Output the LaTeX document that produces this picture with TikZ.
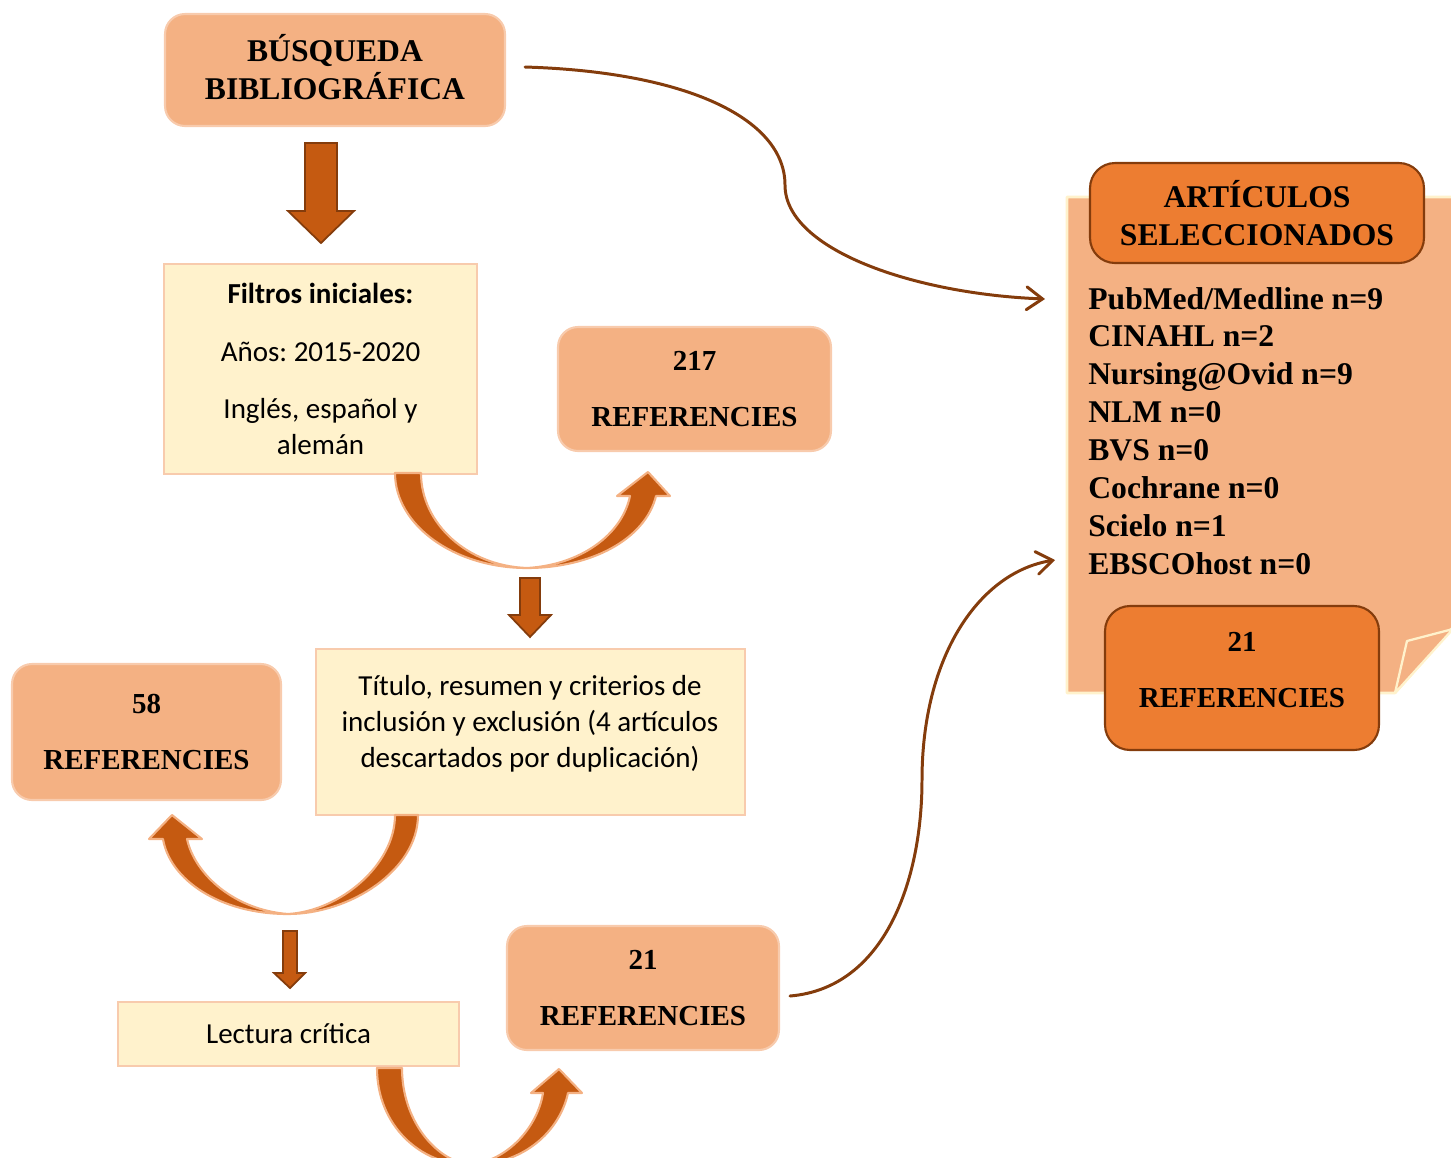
\documentclass[tikz,border=0pt]{standalone}
\usepackage{fontspec}
\setmainfont{Liberation Serif}
\newfontfamily\calfont{Carlito}
\usetikzlibrary{arrows.meta}
\definecolor{peach}{HTML}{F4B183}
\definecolor{peachline}{HTML}{F8CBAD}
\definecolor{cream}{HTML}{FFF2CC}
\definecolor{orng}{HTML}{ED7D31}
\definecolor{rust}{HTML}{C55A11}
\definecolor{darkbrown}{HTML}{843C0C}
\frenchspacing
\begin{document}
\begin{tikzpicture}[x=0.02cm,y=-0.02cm,
  pbox/.style={draw=peachline, line width=1.2pt, fill=peach, rounded corners=0.4cm,
    align=center, inner sep=0pt, font=\bfseries\fontsize{16.5}{19.5}\selectfont},
  hbox/.style={pbox, font=\bfseries\fontsize{18}{21.5}\selectfont},
  obox/.style={draw=darkbrown, line width=1.2pt, fill=orng, rounded corners=0.5cm,
    align=center, inner sep=0pt, font=\bfseries\fontsize{16.5}{19.5}\selectfont},
  cfont/.style={font=\calfont\fontsize{16.5}{20.4}\selectfont},
  cbox/.style={draw=peachline, line width=1.2pt, fill=cream, align=center, inner sep=0pt, cfont},
  blockarrow/.style={fill=rust, draw=darkbrown, line width=1pt, line join=miter},
  uarrow/.style={fill=rust, draw=peach, line width=1.2pt, line join=round},
  thin/.style={draw=darkbrown, line width=1.7pt, line cap=round,
    -{Straight Barb[length=9pt,width=13pt,line cap=round]}},
  listtxt/.style={anchor=base west, inner sep=0pt, font=\bfseries\fontsize{18}{21.5}\selectfont}
]
\path[use as bounding box] (0,0) rectangle (1451,1157);
\clip (0,0) rectangle (1451,1157);

% note with folded corner
\path[fill=peach, draw=cream, line width=1.5pt, line join=round]
  (1067,197) -- (1455,197) -- (1455,625) -- (1395,693) -- (1067,693) -- cycle;
\path[fill=peach, draw=cream, line width=1.3pt, line join=round]
  (1395,693) -- (1407,641) -- (1453,629) -- cycle;

% boxes
\node[hbox, minimum width=6.8cm, minimum height=2.24cm] (busq) at (335,70) {};
\node[align=center, inner sep=0pt, font=\bfseries\fontsize{18}{21.5}\selectfont]
  (busqtxt) at (335,67) {BÚSQUEDA\\BIBLIOGRÁFICA};
\node[cbox, minimum width=6.26cm, minimum height=4.2cm] (filt) at (320.5,369)
  {\textbf{Filtros iniciales:}\\[12.6pt]Años: 2015-2020\\[12.3pt]Inglés, español y\\alemán};
\node[pbox, minimum width=5.46cm, minimum height=2.48cm] (r217) at (694.5,389) {217\\[12pt]REFERENCIES};
\node[cbox, minimum width=8.58cm, minimum height=3.32cm] (tit) at (530.5,732) {};
\node[align=center, inner sep=0pt, cfont] (tittxt) at (530,724)
  {Título, resumen y criterios de\\inclusión y exclusión (4 artículos\\descartados por duplicación)};
\node[pbox, minimum width=5.38cm, minimum height=2.72cm] (r58) at (146.5,732) {58\\[12pt]REFERENCIES};
\node[cbox, minimum width=6.82cm, minimum height=1.28cm] (lect) at (288.5,1034) {Lectura crítica};
\node[pbox, minimum width=5.44cm, minimum height=2.48cm] (r21) at (643,988) {21\\[12pt]REFERENCIES};
\node[obox, minimum width=6.68cm, minimum height=2.0cm, font=\bfseries\fontsize{18}{21.5}\selectfont]
  (art) at (1257,213) {ARTÍCULOS\\SELECCIONADOS};
\node[obox, minimum width=5.48cm, minimum height=2.88cm] (rsel) at (1242,678) {};
\node[align=center, inner sep=0pt, font=\bfseries\fontsize{16.5}{19.5}\selectfont]
  (rseltxt) at (1242,670) {21\\[12pt]REFERENCIES};

% list
\foreach \t [count=\i from 0] in {PubMed/Medline n=9, CINAHL n=2, Nursing@Ovid n=9, NLM n=0,
  BVS n=0, Cochrane n=0, Scielo n=1, EBSCOhost n=0}
  \node[listtxt] (db\i) at (1088,{309+37.86*\i}) {\t};

% block arrows
\path[blockarrow] (305,143)--(337,143)--(337,211)--(354,211)--(321,243)--(288,211)--(305,211)--cycle;
\path[blockarrow] (520,578)--(540,578)--(540,615)--(551,615)--(530,637)--(509,615)--(520,615)--cycle;
\path[blockarrow] (283,931)--(297,931)--(297,973)--(305,973)--(290,988)--(274,973)--(283,973)--cycle;

% curved block arrows
\path[uarrow] (395,473) .. controls (395,525) and (454,568) .. (527,568)
  .. controls (590,568) and (645,540) .. (656,496)
  -- (670,496) -- (648,472) -- (617,496) -- (630,496)
  .. controls (622,535) and (580,565) .. (527,568)
  .. controls (468,566) and (421,524) .. (421,473) -- cycle;
\path[uarrow] (418,815) .. controls (418,870) and (350,914) .. (288,914)
  .. controls (220,914) and (170,880) .. (163,839)
  -- (149,839) -- (172,815) -- (202,839) -- (187,839)
  .. controls (195,875) and (235,910) .. (288,914)
  .. controls (340,911) and (395,865) .. (395,815) -- cycle;
\path[uarrow] (377,1068) .. controls (377,1125) and (420,1165) .. (470,1165)
  .. controls (525,1165) and (560,1130) .. (568,1093)
  -- (582,1093) -- (559,1069) -- (531,1093) -- (543,1093)
  .. controls (538,1125) and (510,1160) .. (470,1165)
  .. controls (435,1160) and (402,1120) .. (402,1068) -- cycle;

% thin curved arrows
\coordinate (s1) at (525,67);
\coordinate (e1) at (1045,299);
\coordinate (s2) at (790,996);
\coordinate (e2) at (1055,560);
\draw[thin] (s1) .. controls (690,72) and (785,120) .. (785,185)
  .. controls (785,250) and (915,294) .. (e1);
\draw[thin] (s2) .. controls (885,988) and (922,880) .. (922,780)
  .. controls (922,655) and (980,572) .. (e2);
\end{tikzpicture}
\end{document}
